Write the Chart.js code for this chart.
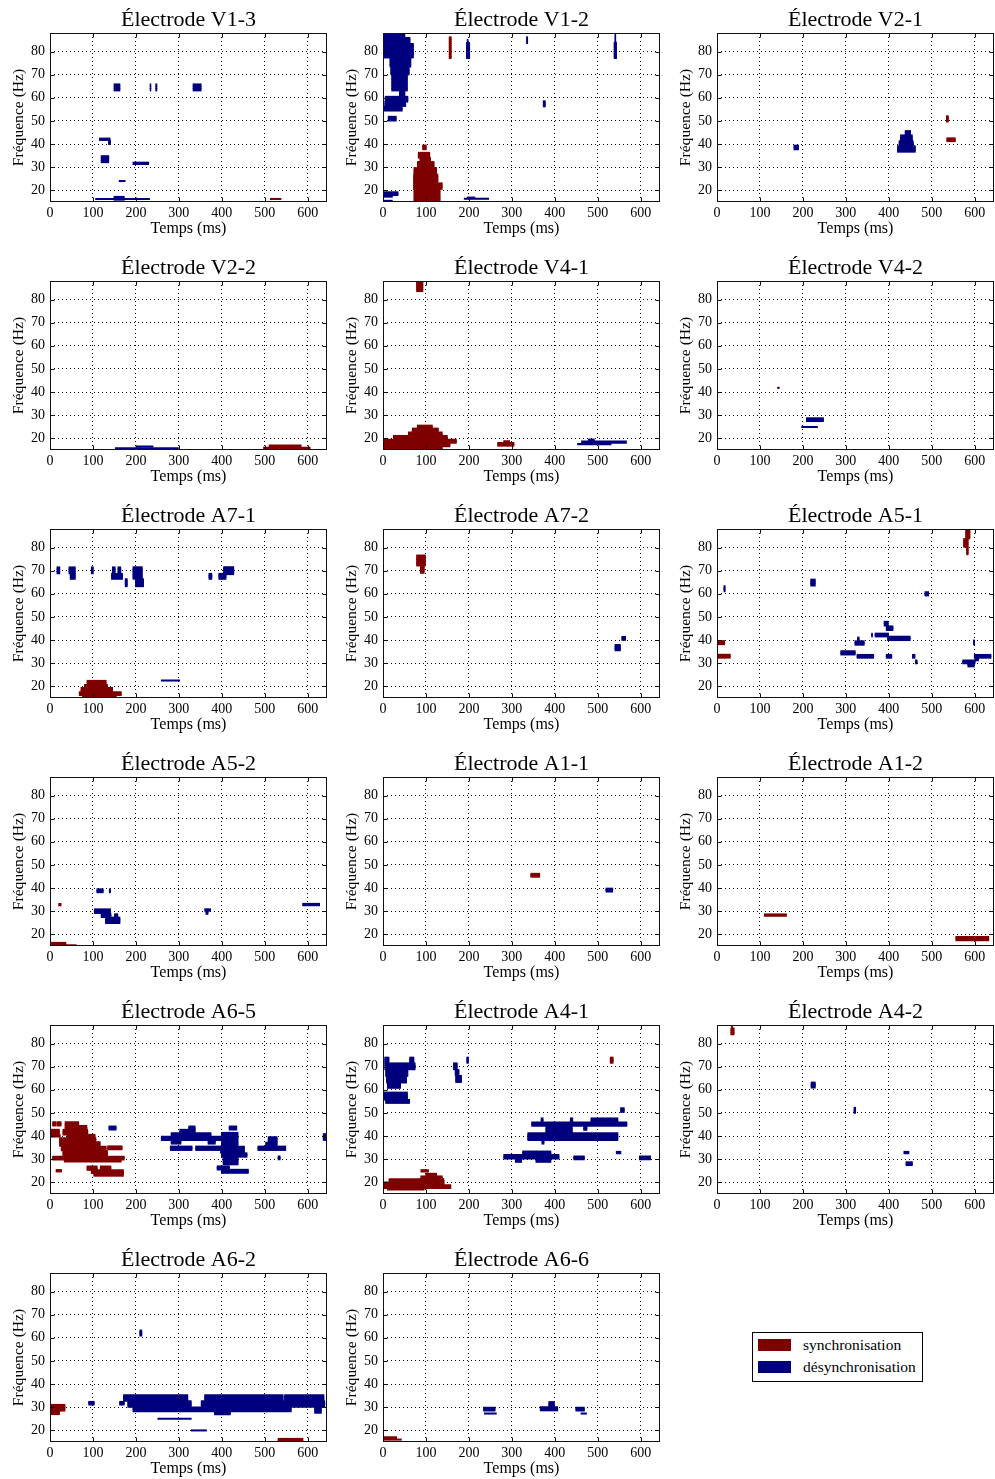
<!DOCTYPE html>
<html lang="fr">
<head>
<meta charset="UTF-8">
<title>Électrodes</title>
<script src="https://cdn.jsdelivr.net/npm/chart.js@4.4.1/dist/chart.umd.min.js"></script>
<style>
  body { margin: 0; background: #fff; width: 995px; height: 1479px; position: relative; overflow: hidden; }
  .panel { position: absolute; width: 377px; height: 238px; }
  #legend { position: absolute; left: 752px; top: 1332px; width: 169px; height: 48px; border: 1px solid #000; background: #fff;
            font-family: "Liberation Serif", serif; font-size: 15.5px; color: #000; }
  #legend .sw { position: absolute; left: 5px; width: 33px; height: 12px; }
  #legend .lb { position: absolute; left: 50px; line-height: 16px; }
</style>
</head>
<body>
<div id="legend">
  <div class="sw" style="top:6px;background:#7f0000"></div><div class="lb" style="top:4px">synchronisation</div>
  <div class="sw" style="top:28px;background:#00007f"></div><div class="lb" style="top:26px">désynchronisation</div>
</div>
<script>
// tick labels
const xTicks = [0, 100, 200, 300, 400, 500, 600];
const yTicks = [20, 30, 40, 50, 60, 70, 80];

// blobs as [t0 (ms), t1 (ms), f0 (Hz), f1 (Hz)]
const v13Sync = [[513, 538, 16.1, 16.5]];
const v13Desync = [[149, 163, 63, 66], [233, 235, 63, 66], [246, 249, 63, 66], [333, 352, 63, 66],
  [115, 140, 41.6, 42.6], [136, 141, 40, 41.6], [119, 137, 32, 35], [193, 230, 31.2, 32.2],
  [161, 175, 23.8, 24.3], [106, 232, 16.1, 16.5], [149, 173, 16, 17.2]];

const v12Sync = [[154, 159, 77, 86.3], [92, 101, 37.6, 39.6], [82, 109, 34.1, 36.3], [86, 111, 32.4, 34.1],
  [80, 119, 29.8, 32.4], [72, 125, 27, 29.8], [71, 128, 23.2, 27], [71, 138, 20.5, 23.2], [72, 133, 15, 20.5]];
const v12Desync = [[0, 51, 86, 88], [0, 63, 83.4, 86], [0, 71, 77.3, 83.4], [16, 65, 73.3, 77.3], [18, 61, 70, 73.3],
  [20, 57, 63, 70], [38, 51, 60.5, 63], [5, 58, 58.3, 60.5], [4, 53, 56.3, 58.3], [2, 45, 54.3, 56.3], [12, 31, 50, 52],
  [194, 202, 77, 83.8], [196, 198, 83.8, 85], [334, 337, 83.5, 86.3], [373, 378, 56.2, 58.6],
  [538, 544, 77, 84], [540, 542, 84, 87.5],
  [0, 35, 18, 19.2], [0, 22, 17.2, 18], [0, 22, 15.2, 15.8], [189, 246, 16.1, 16.7], [196, 214, 16.6, 17.2]];

const v21Sync = [[534, 539, 49.7, 52.1], [535, 555, 41.3, 42.5]];
const v21Desync = [[179, 190, 37.6, 39.5], [438, 451, 43.9, 45.8], [427, 455, 41.3, 43.9],
  [424, 457, 39.2, 41.3], [420, 462, 36.6, 39.2]];

const v22Sync = [[497, 606, 15.2, 16.2], [510, 585, 16.2, 17]];
const v22Desync = [[152, 299, 15.4, 16.0], [200, 240, 16.2, 16.8]];

const v41Sync = [[78, 93, 83.5, 88], [80, 115, 24.4, 25.5], [68, 129, 22.6, 24.4], [59, 138, 21.2, 22.6],
  [24, 150, 19.5, 21.2], [0, 171, 18, 19.5], [0, 156, 16.6, 18], [0, 138, 15, 16.6],
  [281, 295, 18, 19], [267, 305, 16.9, 18]];
const v41Desync = [[478, 492, 18.3, 19.5], [462, 567, 17.9, 18.9], [453, 531, 17.2, 17.9]];

const v42Sync = [];
const v42Desync = [[141, 145, 41.5, 42.2], [208, 248, 27.5, 28.7], [197, 234, 24.6, 25.3]];

const a71Sync = [[86, 131, 20.6, 22.6], [80, 134, 19.5, 20.6], [72, 146, 17.5, 19.5], [68, 166, 16.3, 17.5], [76, 154, 15, 16.3]];
const a71Desync = [[16, 23, 68.7, 71.6], [44, 59, 68.7, 71.6], [47, 59, 66.4, 68.7], [96, 101, 68.7, 71.6],
  [145, 152, 68.7, 71.6], [158, 165, 68.7, 71.6], [143, 169, 66.4, 68.7], [175, 180, 63.2, 66.4],
  [193, 215, 66.4, 71.6], [199, 218, 63.2, 66.4], [370, 377, 66.4, 68.7], [393, 410, 66.4, 68.7],
  [404, 428, 68.4, 71.6], [259, 302, 22.3, 22.8]];

const a72Sync = [[78, 99, 72.1, 76.7], [87, 96, 69, 72.1]];
const a72Desync = [[556, 565, 40.1, 41.4], [540, 553, 35.5, 38]];

const a51Sync = [[579, 589, 83.8, 88], [574, 585, 80.2, 83.8], [581, 585, 77, 80.2], [0, 18, 38.2, 39.6], [0, 31, 32.4, 33.7]];
const a51Desync = [[16, 19, 61, 63.4], [218, 229, 63.4, 66.3], [484, 493, 59.2, 60.8], [389, 399, 46.1, 48.1],
  [394, 410, 44.2, 46.1], [368, 399, 41.6, 42.8], [397, 450, 39.9, 41.6], [360, 362, 41.6, 42.8],
  [321, 343, 37.9, 39.6], [327, 331, 39.6, 41.2], [288, 322, 33.7, 35.3], [326, 365, 32.4, 33.6],
  [394, 407, 32.4, 33.6], [455, 461, 32.4, 33.6], [462, 466, 30, 31.2], [572, 601, 30, 31.2],
  [584, 599, 28.6, 30], [599, 638, 32.4, 33.6], [601, 609, 31.3, 32.4], [597, 600, 38, 40]];

const a52Sync = [[20, 26, 32.4, 33.3], [0, 37, 15, 16.4], [37, 61, 15, 15.6]];
const a52Desync = [[109, 124, 38.2, 39.5], [138, 141, 38.2, 39.5], [103, 141, 29.1, 31], [119, 142, 27.4, 29.1],
  [129, 163, 24.8, 27.4], [150, 158, 27.4, 28.7], [360, 374, 30.1, 31], [363, 368, 28.9, 30.1], [588, 628, 32.4, 33.4]];

const a11Sync = [[344, 365, 44.9, 46.2]];
const a11Desync = [[519, 535, 38.5, 39.8]];

const a12Sync = [[110, 162, 27.9, 28.8], [556, 633, 17.4, 19]];
const a12Desync = [];

const a65Sync = [[6, 14, 44.5, 46.1], [16, 26, 44.5, 46.1], [35, 67, 44.5, 46.1], [35, 86, 42.8, 44.5],
  [2, 22, 40.6, 42.8], [30, 88, 40.6, 42.8], [2, 24, 39.6, 40.6], [40, 105, 39.2, 40.6], [22, 107, 37.6, 39.2],
  [22, 117, 35.6, 37.6], [26, 131, 33.7, 35.6], [134, 168, 34.3, 35.6], [30, 134, 31.2, 33.7], [6, 173, 29.8, 31.2],
  [33, 166, 28.9, 29.8], [86, 110, 25.3, 27], [117, 142, 25.3, 27], [96, 171, 24.1, 25.3], [102, 171, 22.9, 24.1],
  [14, 27, 24.6, 25.5]];
const a65Desync = [[137, 154, 42.8, 44.2], [323, 338, 42.8, 44.2], [302, 338, 41.3, 42.8], [282, 375, 39.9, 41.3],
  [259, 398, 38.2, 39.9], [282, 305, 36.7, 38.2], [368, 385, 36.7, 38.2], [280, 331, 33.9, 35.6], [339, 399, 33.9, 35.6],
  [417, 435, 42.8, 44.2], [399, 438, 35.6, 41.6], [397, 453, 32.7, 35.6], [399, 459, 31, 32.7], [403, 438, 27.7, 31],
  [389, 418, 25.5, 27], [399, 462, 24.1, 25.5], [508, 529, 37.3, 39.6], [502, 529, 35.6, 37.3], [484, 549, 33.9, 35.6],
  [531, 536, 30, 31.2], [636, 645, 38.2, 41]];

const a41Sync = [[529, 536, 71.6, 74], [88, 106, 24.5, 25.5], [100, 125, 22.6, 23.7], [88, 138, 21.4, 22.6],
  [14, 142, 20, 21.4], [0, 142, 18.8, 20], [0, 158, 17.6, 18.8], [10, 96, 16.8, 17.6]];
const a41Desync = [[4, 14, 71.6, 74], [62, 72, 71.6, 74], [4, 75, 68.7, 71.6], [6, 58, 65.8, 68.7], [8, 55, 63, 65.8],
  [10, 41, 60.8, 63], [0, 57, 55.7, 58.9], [6, 62, 54.3, 55.7], [164, 173, 68.7, 71.6], [168, 177, 66.2, 68.7],
  [169, 183, 63.2, 66.2], [195, 199, 71.6, 74], [553, 562, 50.3, 52.2], [368, 373, 46, 47.8], [436, 442, 46, 47.8],
  [484, 547, 46, 47.8], [346, 568, 44.3, 46], [379, 441, 41.3, 44.3], [467, 475, 42.6, 44.3], [337, 547, 38.2, 41.3],
  [370, 375, 36.7, 38.2], [325, 391, 32, 33.4], [281, 410, 30.1, 32], [308, 323, 28.9, 30.1], [356, 391, 28.9, 30.1],
  [444, 469, 30, 31.2], [543, 554, 32.4, 33.4], [597, 623, 30, 31.2]];

const a42Sync = [[32, 40, 83.8, 86.7], [34, 36, 86.7, 88]];
const a42Desync = [[219, 229, 60.9, 63.2], [319, 323, 50, 52.3], [435, 447, 32.4, 33.4], [440, 455, 27.5, 28.7]];

const a62Sync = [[0, 35, 28.4, 31.2], [0, 22, 27, 28.4], [531, 589, 15, 16.4]];
const a62Desync = [[209, 214, 60.9, 63.2], [90, 103, 31.2, 32.3], [162, 173, 31.2, 32.3],
  [171, 321, 32.7, 35.3], [360, 543, 32.7, 35.3], [546, 638, 32.7, 35.3], [181, 329, 30.1, 32.7], [352, 640, 30.1, 32.7],
  [193, 562, 28.1, 30.1], [616, 632, 27.5, 30.1], [383, 420, 27, 28.1], [251, 329, 24.7, 25.4], [329, 364, 19.8, 20.2]];

const a66Sync = [[0, 32, 16.3, 17.2], [0, 43, 15.8, 16.3]];
const a66Desync = [[234, 261, 28.6, 29.8], [236, 264, 27, 27.6], [366, 407, 28.6, 30.1], [386, 399, 30.1, 32.3],
  [449, 469, 28.6, 29.8], [461, 474, 27, 27.6]];

const electrodes = ['V1-3', 'V1-2', 'V2-1', 'V2-2', 'V4-1', 'V4-2', 'A7-1', 'A7-2', 'A5-1',
  'A5-2', 'A1-1', 'A1-2', 'A6-5', 'A4-1', 'A4-2', 'A6-2', 'A6-6'];
const syncData = [v13Sync, v12Sync, v21Sync, v22Sync, v41Sync, v42Sync, a71Sync, a72Sync, a51Sync,
  a52Sync, a11Sync, a12Sync, a65Sync, a41Sync, a42Sync, a62Sync, a66Sync];
const desyncData = [v13Desync, v12Desync, v21Desync, v22Desync, v41Desync, v42Desync, a71Desync, a72Desync, a51Desync,
  a52Desync, a11Desync, a12Desync, a65Desync, a41Desync, a42Desync, a62Desync, a66Desync];

const SYNC = '#7f0000', DESYNC = '#00007f';
const FONT = '"Liberation Serif", "Times New Roman", serif';

// split each rectangle into 1 Hz high strips for floating horizontal bars
function strips(rects) {
  const thick = [], thin = [];
  rects.forEach(([t0, t1, f0, f1]) => {
    const span = f1 - f0;
    if (span < 0.75) { thin.push({x: [t0, t1], y: (f0 + f1) / 2}); return; }
    const n = Math.ceil(span - 0.05);
    const h = span / n;
    for (let k = 0; k < n; k++) thick.push({x: [t0, t1], y: f0 + (k + 0.5) * h});
  });
  return {thick, thin};
}

const framePlugin = {
  id: 'frame',
  afterDraw(chart) {
    const {ctx, chartArea: a, scales} = chart;
    const L = Math.round(a.left) + 0.5, R = Math.round(a.right) - 0.5;
    const T = Math.round(a.top) + 0.5, B = Math.round(a.bottom) - 0.5;
    ctx.save();
    ctx.strokeStyle = '#111';
    ctx.lineWidth = 1;
    ctx.beginPath();
    scales.x.ticks.forEach(t => {
      const p = Math.round(scales.x.getPixelForValue(t.value)) + 0.5;
      ctx.moveTo(p, B); ctx.lineTo(p, B - 4);
      ctx.moveTo(p, T); ctx.lineTo(p, T + 4);
    });
    scales.y.ticks.forEach(t => {
      const p = Math.round(scales.y.getPixelForValue(t.value)) + 0.5;
      ctx.moveTo(L, p); ctx.lineTo(L + 4, p);
      ctx.moveTo(R, p); ctx.lineTo(R - 4, p);
    });
    ctx.stroke();
    ctx.strokeRect(L, T, R - L, B - T);
    ctx.restore();
  }
};

const colLeft = [0, 333, 667];

electrodes.forEach((name, i) => {
  const div = document.createElement('div');
  div.className = 'panel';
  div.style.left = colLeft[i % 3] + 'px';
  div.style.top = (248 * Math.floor(i / 3)) + 'px';
  const canvas = document.createElement('canvas');
  canvas.width = 377;
  canvas.height = 238;
  canvas.style.width = '377px';
  canvas.style.height = '238px';
  div.appendChild(canvas);
  document.body.appendChild(div);

  const s = strips(syncData[i]);
  const d = strips(desyncData[i]);
  const bar = (data, color, thickness) => ({
    data, backgroundColor: color, barThickness: thickness, grouped: false,
    borderWidth: 0, xAxisID: 'x', yAxisID: 'y'
  });

  new Chart(canvas, {
    type: 'bar',
    data: {
      datasets: [
        bar(s.thick, SYNC, 2.7), bar(s.thin, SYNC, 1.4),
        bar(d.thick, DESYNC, 2.7), bar(d.thin, DESYNC, 1.4)
      ]
    },
    options: {
      indexAxis: 'y',
      responsive: false,
      maintainAspectRatio: false,
      animation: false,
      events: [],
      layout: { padding: 0 },
      plugins: {
        legend: { display: false },
        tooltip: { enabled: false },
        title: {
          display: true, text: 'Électrode ' + name, color: '#000',
          font: { family: FONT, size: 22, weight: 'normal', lineHeight: '25px' },
          padding: { top: 8, bottom: 0 }
        }
      },
      scales: {
        x: {
          type: 'linear', position: 'bottom', min: 0, max: 645, offset: false,
          afterBuildTicks: sc => { sc.ticks = xTicks.map(v => ({value: v})); },
          afterFit: sc => { sc.height = 36; },
          grid: { color: '#000', lineWidth: 1, drawTicks: false, offset: false },
          border: { display: false, dash: [1, 3] },
          ticks: { color: '#000', padding: 3, maxRotation: 0, autoSkip: false, font: { family: FONT, size: 14 } },
          title: { display: true, text: 'Temps (ms)', color: '#000', padding: 0,
                   font: { family: FONT, size: 16, lineHeight: '18px' } }
        },
        y: {
          type: 'linear', position: 'left', min: 15, max: 88, offset: false,
          afterBuildTicks: sc => { sc.ticks = yTicks.map(v => ({value: v})); },
          afterFit: sc => { sc.width = 50; },
          grid: { color: '#000', lineWidth: 1, drawTicks: false, offset: false },
          border: { display: false, dash: [1, 3] },
          ticks: { color: '#000', padding: 5, autoSkip: false, font: { family: FONT, size: 14 } },
          title: { display: true, text: 'Fréquence (Hz)', color: '#000', padding: { top: 10, bottom: 0 },
                   font: { family: FONT, size: 15.6, lineHeight: '18px' } }
        },
        pad: {
          type: 'linear', position: 'right', axis: 'y',
          grid: { display: false }, border: { display: false }, ticks: { display: false },
          afterFit: sc => { sc.width = 50; }
        }
      }
    },
    plugins: [framePlugin]
  });
});
</script>
</body>
</html>
